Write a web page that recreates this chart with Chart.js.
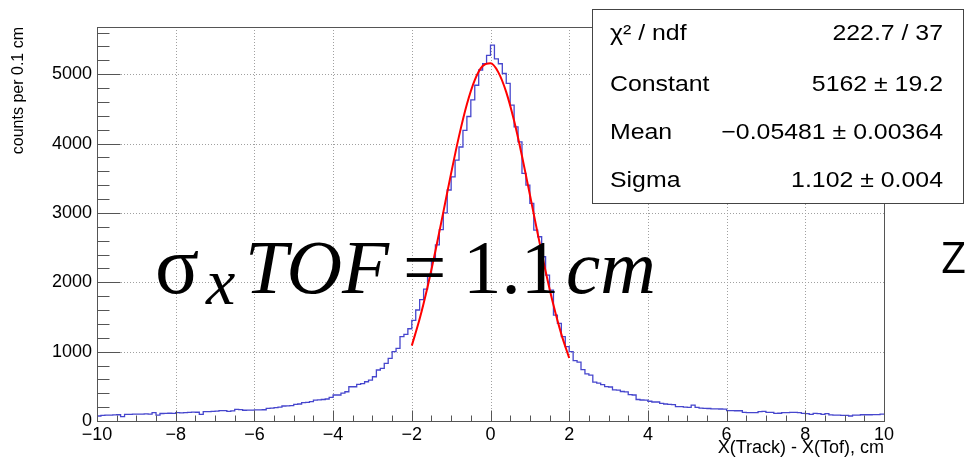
<!DOCTYPE html>
<html><head><meta charset="utf-8">
<script src="https://cdn.jsdelivr.net/npm/chart.js@4/dist/chart.umd.min.js"></script>
<style>html,body{margin:0;padding:0;background:#fff;overflow:hidden}canvas{display:block}</style>
</head><body>
<canvas id="c" width="973" height="459"></canvas>
<script>
// ---- data ----
const xMin = -10, xMax = 10, binWidth = 0.1;
const counts = [
  72, 80, 86, 86, 88, 90, 62, 96, 96, 98,
  100, 100, 102, 100, 122, 85, 108, 110, 112, 110,
  120, 118, 122, 125, 127, 126, 96, 134, 134, 138,
  142, 149, 150, 140, 145, 168, 165, 155, 156, 158,
  160, 159, 162, 183, 185, 192, 200, 216, 218, 222,
  240, 245, 264, 268, 278, 300, 305, 310, 317, 340,
  375, 375, 403, 422, 494, 494, 528, 540, 566, 590,
  638, 735, 759, 831, 903, 999, 1047, 1215, 1250, 1330,
  1450, 1600, 1750, 1900, 2100, 2320, 2540, 2760, 3000, 3330,
  3520, 3760, 3950, 4190, 4390, 4630, 4840, 5060, 5150, 5270,
  5420, 5220, 5150, 5010, 4866, 4553, 4241, 4025, 3569, 3401,
  3137, 2752, 2656, 2368, 2104, 1888, 1527, 1408, 1215, 1071,
  1000, 870, 850, 740, 680, 660, 560, 547, 523, 495,
  490, 450, 445, 425, 420, 380, 375, 310, 303, 300,
  285, 274, 274, 255, 245, 240, 235, 206, 206, 200,
  195, 230, 197, 185, 183, 180, 175, 175, 173, 172,
  150, 150, 148, 148, 125, 122, 120, 120, 135, 140,
  125, 125, 110, 112, 120, 120, 125, 125, 120, 110,
  105, 96, 110, 105, 96, 105, 88, 86, 86, 82,
  80, 72, 84, 86, 90, 90, 90, 91, 92, 100
];
const fitX = [-2.0, -1.8, -1.6, -1.4, -1.2, -1.0, -0.8, -0.6, -0.4, -0.2, 0.0, 0.2, 0.4, 0.6, 0.8, 1.0, 1.2, 1.4, 1.6, 1.8, 2.0];
const fitY = [1087, 1473, 1932, 2450, 3008, 3573, 4107, 4567, 4915, 5117, 5156, 5026, 4741, 4327, 3821, 3265, 2700, 2160, 1672, 1252, 908];
const xTicks = [-10, -8, -6, -4, -2, 0, 2, 4, 6, 8, 10];
const yTicks = [0, 1000, 2000, 3000, 4000, 5000];
const yMax = 5680;
const statLabels = ['χ² / ndf', 'Constant', 'Mean', 'Sigma'];
const statValues = ['222.7 / 37', '5162 ± 19.2', '−0.05481 ± 0.00364', '1.102 ± 0.004'];
const xTitle = 'X(Track) - X(Tof), cm';
const yTitle = 'counts per 0.1 cm';

// ---- build datasets ----
const histPoints = counts.map((c, i) => ({x: xMin + i * binWidth, y: c}));
histPoints.push({x: xMax, y: counts[counts.length - 1]});
const fitPoints = fitX.map((x, i) => ({x, y: fitY[i]}));

const SANS = "'Liberation Sans', Arial, Helvetica, sans-serif";
const SERIF = "'Liberation Serif', 'DejaVu Serif', serif";
const minus = v => (v < 0 ? '\u2212' + Math.abs(v) : String(v));

function line(ctx, x1, y1, x2, y2) { ctx.beginPath(); ctx.moveTo(x1, y1); ctx.lineTo(x2, y2); ctx.stroke(); }
function sText(ctx, str, x, y, align, sx) {
  ctx.save(); ctx.translate(x, y); ctx.scale(sx, 1); ctx.textAlign = align; ctx.fillText(str, 0, 0); ctx.restore();
}

const deco = {
  id: 'deco',
  beforeDatasetsDraw(chart) {
    const {ctx, chartArea: a, scales: {x, y}} = chart;
    ctx.save();
    ctx.strokeStyle = '#a0a0a0'; ctx.lineWidth = 1; ctx.setLineDash([1, 2]);
    xTicks.forEach(v => {
      if (v === xMin || v === xMax) return;
      const px = Math.round(x.getPixelForValue(v)) + 0.5;
      line(ctx, px, a.top, px, a.bottom);
    });
    yTicks.forEach(v => {
      if (v === 0) return;
      const py = Math.round(y.getPixelForValue(v)) + 0.5;
      line(ctx, a.left, py, a.right, py);
    });
    ctx.restore();
  },
  afterDatasetsDraw(chart) {
    const {ctx, chartArea: a, scales: {x, y}} = chart;
    ctx.save();
    ctx.strokeStyle = '#555'; ctx.lineWidth = 1;
    const L = Math.round(a.left) + 0.5, R = Math.round(a.right) + 0.5;
    const T = Math.round(a.top) + 0.5, B = Math.round(a.bottom) + 0.5;
    ctx.strokeRect(L, T, R - L, B - T);
    for (let v = 0; v <= yMax; v += 200) {
      const py = Math.round(y.getPixelForValue(v)) + 0.5;
      const len = (v % 1000 === 0) ? 23 : 12;
      line(ctx, L, py, L + len, py);
    }
    for (let v = xMin; v <= xMax + 1e-9; v += 0.5) {
      const px = Math.round(x.getPixelForValue(v)) + 0.5;
      const major = Math.abs(v / 2 - Math.round(v / 2)) < 1e-6;
      line(ctx, px, B, px, B - (major ? 11 : 6));
    }
    ctx.restore();
  },
  afterDraw(chart) {
    const {ctx} = chart;
    ctx.save();
    ctx.fillStyle = '#fff';
    ctx.fillRect(592, 9, 371, 194);
    ctx.strokeStyle = '#444'; ctx.lineWidth = 1;
    ctx.strokeRect(592.5, 9.5, 371, 194);
    ctx.fillStyle = '#000';
    ctx.font = '22px ' + SANS;
    ctx.textBaseline = 'alphabetic';
    const rows = [40, 91, 139, 187];
    statLabels.forEach((s, i) => sText(ctx, s, 610, rows[i], 'left', 1.13));
    statValues.forEach((s, i) => sText(ctx, s, 943, rows[i], 'right', 1.13));
    ctx.textAlign = 'left';
    ctx.font = '82px ' + SERIF; ctx.fillText('σ', 155, 293);
    ctx.font = 'italic 66px ' + SERIF; ctx.fillText('x', 206, 304);
    ctx.font = 'italic 77px ' + SERIF; ctx.fillText('TOF', 245, 293);
    ctx.font = '77px ' + SERIF; ctx.fillText('=', 403, 293);
    ctx.fillText('1.1', 463, 293);
    ctx.font = 'italic 77px ' + SERIF; ctx.fillText('cm', 566, 293);
    ctx.font = "44px 'Open Sans', 'DejaVu Sans', sans-serif";
    ctx.fillText('Z', 941, 273);
    ctx.restore();
  }
};

new Chart(document.getElementById('c'), {
  type: 'line',
  data: {
    datasets: [
      {label: 'fit', data: fitPoints, borderColor: 'rgb(255,0,0)', borderWidth: 2,
       pointRadius: 0, cubicInterpolationMode: 'monotone', fill: false},
      {label: 'hist', data: histPoints, borderColor: 'rgb(70,70,205)', borderWidth: 1.3,
       pointRadius: 0, stepped: 'before', fill: false}
    ]
  },
  options: {
    responsive: false, animation: false, events: [],
    layout: {padding: {top: 27, right: 89, left: 0, bottom: 0}},
    plugins: {legend: {display: false}, tooltip: {enabled: false}},
    scales: {
      x: {
        type: 'linear', min: xMin, max: xMax,
        afterBuildTicks: s => { s.ticks = xTicks.map(v => ({value: v})); },
        afterFit: s => { s.height = 38; },
        grid: {display: false, drawTicks: false}, border: {display: false},
        ticks: {color: '#000', font: {family: SANS, size: 18}, padding: 3, maxRotation: 0,
                autoSkip: false, callback: v => minus(v)},
        title: {display: true, text: xTitle, align: 'end', color: '#000',
                font: {family: SANS, size: 18}, padding: {top: 0, bottom: 0}}
      },
      y: {
        type: 'linear', min: 0, max: yMax,
        afterBuildTicks: s => { s.ticks = yTicks.map(v => ({value: v})); },
        afterFit: s => { s.width = 97; },
        grid: {display: false, drawTicks: false}, border: {display: false},
        ticks: {color: '#000', font: {family: SANS, size: 18}, padding: 5, autoSkip: false,
                callback: v => String(v)},
        title: {display: true, text: yTitle, align: 'end', color: '#000',
                font: {family: SANS, size: 16}, padding: {top: 9, bottom: 0}}
      }
    }
  },
  plugins: [deco]
});
</script>
</body></html>
